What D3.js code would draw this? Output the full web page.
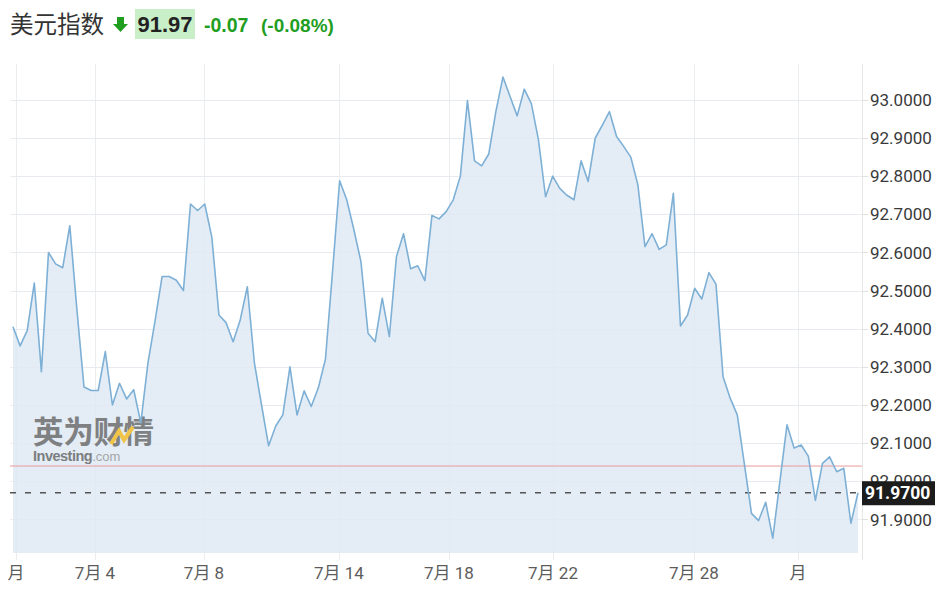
<!DOCTYPE html>
<html><head><meta charset="utf-8">
<script src="https://cdn.jsdelivr.net/npm/d3@7/dist/d3.min.js"></script>
<style>
html,body{margin:0;padding:0;background:#fff;}
svg{display:block;}
</style></head>
<body>
<svg id="chart" width="945" height="600"></svg>
<script>
// ---- data ----
const titleText = "美元指数";
const lastPriceText = "91.97";
const changeText = "-0.07";
const changePctText = "(-0.08%)";
const lastPrice = 91.97;
const prevClose = 92.04;
const values = [
 92.405,92.355,92.395,92.52,92.287,92.60,92.57,92.56,92.67,92.45,
 92.247,92.238,92.238,92.34,92.20,92.257,92.216,92.24,92.153,92.31,
 92.42,92.537,92.537,92.527,92.50,92.727,92.71,92.727,92.64,92.436,
 92.416,92.366,92.423,92.51,92.31,92.20,92.093,92.145,92.174,92.30,
 92.174,92.237,92.196,92.245,92.32,92.55,92.788,92.738,92.66,92.576,
 92.388,92.366,92.48,92.379,92.589,92.649,92.557,92.565,92.526,92.697,
 92.688,92.707,92.738,92.80,92.998,92.84,92.827,92.858,92.969,93.06,
 93.009,92.958,93.028,92.99,92.895,92.746,92.80,92.768,92.75,92.738,
 92.84,92.786,92.90,92.934,92.969,92.904,92.878,92.85,92.777,92.615,
 92.649,92.608,92.62,92.755,92.407,92.436,92.506,92.478,92.547,92.517,
 92.274,92.218,92.174,92.045,91.916,91.897,91.945,91.851,92.00,92.148,
 92.087,92.095,92.066,91.95,92.047,92.064,92.025,92.034,91.89,91.97
];
const xTickIndex = [0.42, 11.55, 26.9, 45.9, 61.4, 76.05, 95.9, 110.55];
const xTickLabels = ["月","7月 4","7月 8","7月 14","7月 18","7月 22","7月 28","月"];
const yTicks = [91.9,92.0,92.1,92.2,92.3,92.4,92.5,92.6,92.7,92.8,92.9,93.0];

// ---- layout ----
const svg = d3.select("#chart");
const plotL = 13, plotR = 858, plotT = 64, plotB = 553, axisX = 862;
const x = d3.scaleLinear().domain([0, values.length - 1]).range([plotL, plotR]);
const y = d3.scaleLinear().domain([91.812, 93.094]).range([plotB, plotT]);

// header
const hdr = svg.append("g");
hdr.append("text").attr("x", 10).attr("y", 33)
  .attr("font-family", "'Noto Sans CJK SC', sans-serif").attr("font-size", 23.5)
  .attr("fill", "#333").text(titleText);
hdr.append("path")
  .attr("d", "M117,17 L124,17 L124,24 L128,24 L120.5,32 L113,24 L117,24 Z")
  .attr("fill", "#1f9e1f");
hdr.append("rect").attr("x", 135).attr("y", 9).attr("width", 60).attr("height", 30)
  .attr("fill", "#c9efc9");
hdr.append("text").attr("x", 165).attr("y", 32).attr("text-anchor", "middle")
  .attr("font-family", "'Liberation Sans', Arial, sans-serif").attr("font-weight", "bold")
  .attr("font-size", 22).attr("fill", "#222").text(lastPriceText);
hdr.append("text").attr("x", 204).attr("y", 32)
  .attr("font-family", "'Liberation Sans', Arial, sans-serif").attr("font-weight", "bold")
  .attr("font-size", 19.5).attr("fill", "#1f9e1f").text(changeText);
hdr.append("text").attr("x", 261).attr("y", 32)
  .attr("font-family", "'Liberation Sans', Arial, sans-serif").attr("font-weight", "bold")
  .attr("font-size", 19).attr("fill", "#1f9e1f").text(changePctText);

// gridlines
const grid = svg.append("g");
grid.selectAll("line.h").data(yTicks).join("line")
  .attr("x1", 10).attr("x2", axisX)
  .attr("y1", d => Math.round(y(d)) + 0.5).attr("y2", d => Math.round(y(d)) + 0.5)
  .attr("stroke", "#efefef").attr("stroke-width", 1);
grid.selectAll("line.v").data(xTickIndex).join("line")
  .attr("x1", d => Math.round(x(d)) + 0.5).attr("x2", d => Math.round(x(d)) + 0.5)
  .attr("y1", plotT).attr("y2", 560)
  .attr("stroke", "#f2f2f2").attr("stroke-width", 1);

// area
const area = d3.area().x((d, i) => x(i)).y0(plotB).y1(d => y(d));
svg.append("path").datum(values).attr("d", area).attr("fill", "#e4edf6");

// faint grid over area
svg.append("g").selectAll("line").data(xTickIndex).join("line")
  .attr("x1", d => Math.round(x(d)) + 0.5).attr("x2", d => Math.round(x(d)) + 0.5)
  .attr("y1", plotT).attr("y2", 560)
  .attr("stroke", "#dbe3ec").attr("stroke-opacity", 0.3);
svg.append("g").selectAll("line").data(yTicks).join("line")
  .attr("x1", plotL).attr("x2", plotR)
  .attr("y1", d => Math.round(y(d)) + 0.5).attr("y2", d => Math.round(y(d)) + 0.5)
  .attr("stroke", "#dfe6ee").attr("stroke-opacity", 0.5);

// watermark
const wm = svg.append("g").attr("opacity", 0.85);
wm.append("text").attr("x", 33).attr("y", 443)
  .attr("font-family", "'Noto Sans CJK SC', sans-serif").attr("font-weight", "bold")
  .attr("font-size", 30.5).attr("fill", "#6e6e6e").attr("letter-spacing", -0.3).text("英为财情");
wm.append("path").attr("d", "M111,444 L119,431 L124,440 L133,427")
  .attr("fill", "none").attr("stroke", "#f2bd2c").attr("stroke-width", 4);
const wmt = wm.append("text").attr("x", 33).attr("y", 461)
  .attr("font-family", "'Liberation Sans', Arial, sans-serif").attr("font-size", 14.5);
wmt.append("tspan").attr("font-weight", "bold").attr("fill", "#6a6a6a").attr("letter-spacing", -0.5).text("Investing");
wmt.append("tspan").attr("fill", "#9a9a9a").attr("font-size", 13).text(".com");

// reference lines
svg.append("line").attr("x1", 10).attr("x2", axisX)
  .attr("y1", y(prevClose)).attr("y2", y(prevClose))
  .attr("stroke", "#e89a9a").attr("stroke-width", 1);
svg.append("line").attr("x1", 10).attr("x2", axisX)
  .attr("y1", y(lastPrice)).attr("y2", y(lastPrice))
  .attr("stroke", "#555").attr("stroke-width", 1.6).attr("stroke-dasharray", "6,9");

// line
const line = d3.line().x((d, i) => x(i)).y(d => y(d));
svg.append("path").datum(values).attr("d", line)
  .attr("fill", "none").attr("stroke", "#7eb0d6").attr("stroke-width", 1.6)
  .attr("stroke-linejoin", "round");

// y axis
svg.append("line").attr("x1", axisX + 0.5).attr("x2", axisX + 0.5)
  .attr("y1", plotT).attr("y2", 560).attr("stroke", "#e6e6e6");
const ya = svg.append("g");
ya.selectAll("line").data(yTicks).join("line")
  .attr("x1", axisX).attr("x2", axisX + 6)
  .attr("y1", d => Math.round(y(d)) + 0.5).attr("y2", d => Math.round(y(d)) + 0.5)
  .attr("stroke", "#e0e0e0");
ya.selectAll("text").data(yTicks).join("text")
  .attr("x", 870).attr("y", d => y(d)).attr("dy", "0.36em")
  .attr("font-family", "Roboto, sans-serif").attr("font-size", 17)
  .attr("fill", "#3a3a3a").text(d => d3.format(".4f")(d));

// last price box
svg.append("rect").attr("x", 862).attr("y", y(lastPrice) - 11.5).attr("width", 73).attr("height", 24)
  .attr("fill", "#1c1c1c");
svg.append("text").attr("x", 865).attr("y", y(lastPrice)).attr("dy", "0.36em")
  .attr("font-family", "Roboto, sans-serif").attr("font-weight", "bold").attr("font-size", 17.5)
  .attr("fill", "#fff").text(d3.format(".4f")(lastPrice));

// x axis labels
svg.append("g").selectAll("text").data(xTickIndex).join("text")
  .attr("x", d => x(d)).attr("y", 579).attr("text-anchor", "middle")
  .attr("font-family", "Roboto, 'Noto Sans CJK SC', sans-serif").attr("font-size", 17)
  .attr("fill", "#5c5c5c").text((d, i) => xTickLabels[i]);
</script>
</body></html>
